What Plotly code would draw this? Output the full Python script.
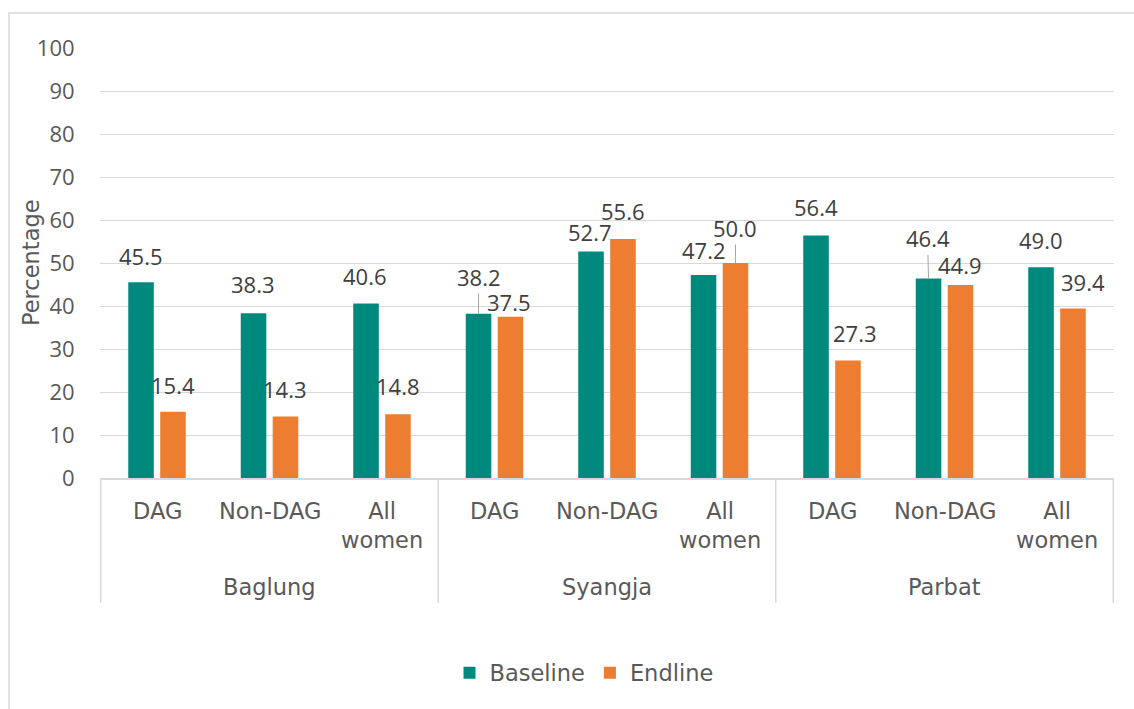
import plotly.graph_objects as go

# ---- data -------------------------------------------------------------
districts = ["Baglung", "Syangja", "Parbat"]
groups = ["DAG", "Non-DAG", "All<br>women"]
series_names = ["Baseline", "Endline"]
baseline = [45.5, 38.3, 40.6, 38.2, 52.7, 47.2, 56.4, 46.4, 49.0]
endline = [15.4, 14.3, 14.8, 37.5, 55.6, 50.0, 27.3, 44.9, 39.4]
y_ticks = [0, 10, 20, 30, 40, 50, 60, 70, 80, 90, 100]
y_title = "Percentage"

# ---- styling ----------------------------------------------------------
TEAL = "#00897D"
ORANGE = "#ED7D31"
GRID = "#D9D9D9"
TICK_TXT = "#595959"
LBL_TXT = "#404040"
NUM_FONT = "Open Sans"
WORD_FONT = "DejaVu Sans"
FS = 22
WFS = 22.5
BARGAP = 0.432
BARGROUPGAP = 0.2

# label placement per bar: (x shift px, y offset px of label centre from bar top, leader line)
baseline_lbl = [(0, -26, False), (-1, -29, False), (-1.5, -27, False),
                (0, -37, True), (-1.5, -19, False), (0, -25, False),
                (0, -28, False), (-1, -40, True), (0, -27, False)]
endline_lbl = [(0, -27, False), (0, -28, False), (0, -28, False),
               (-1, -15, False), (0, -28, False), (0, -35, True),
               (7, -28, False), (0, -20, False), (10, -27, False)]

W, H = 1134, 709
L, R, T, B = 100, 20, 48, 231
pw, ph = W - L - R, H - T - B


def py(pixel_y):
    """page pixel row -> paper y"""
    return (H - B - pixel_y) / ph


def px(pixel_x):
    """page pixel column -> paper x"""
    return (pixel_x - L) / pw


x_outer = [d for d in districts for _ in groups]
x_inner = [g for _ in districts for g in groups]

fig = go.Figure()
fig.add_trace(go.Bar(name=series_names[0], x=[x_outer, x_inner], y=baseline,
                     marker=dict(color=TEAL, line=dict(width=0))))
fig.add_trace(go.Bar(name=series_names[1], x=[x_outer, x_inner], y=endline,
                     marker=dict(color=ORANGE, line=dict(width=0))))

annotations = []

# data labels, placed over each bar through the category index of the axis
half_slot = (1 - BARGAP) / 4
for side, vals, specs in ((-1, baseline, baseline_lbl), (1, endline, endline_lbl)):
    for i, (v, (dx, dy, leader)) in enumerate(zip(vals, specs)):
        base = dict(x=i + side * half_slot, y=v, xref="x", yref="y",
                    text=f"{v:.1f}", font=dict(family=NUM_FONT, size=FS, color=LBL_TXT))
        if leader:
            base.update(showarrow=True, ax=dx, ay=dy, arrowhead=0, arrowwidth=1,
                        arrowcolor="#A6A6A6", standoff=0)
        else:
            base.update(showarrow=False, xshift=dx, yshift=-dy,
                        xanchor="center", yanchor="middle")
        annotations.append(base)

# two-level category labels under the axis
for i, g in enumerate(x_inner):
    annotations.append(dict(x=i, y=py(496), xref="x", yref="paper", text=g,
                            showarrow=False, xanchor="center", yanchor="top",
                            font=dict(family=WORD_FONT, size=WFS, color=TICK_TXT)))
n = len(groups)
for k, d in enumerate(districts):
    annotations.append(dict(x=k * n + (n - 1) / 2, y=py(587), xref="x", yref="paper",
                            text=d, showarrow=False, xanchor="center", yanchor="middle",
                            font=dict(family=WORD_FONT, size=WFS, color=TICK_TXT)))

# y-axis title
annotations.append(dict(x=px(31), y=0.5, xref="paper", yref="paper", text=y_title,
                        textangle=-90, showarrow=False, xanchor="center", yanchor="middle",
                        font=dict(family=WORD_FONT, size=WFS, color=TICK_TXT)))

shapes = []
# dividers between districts
for k in range(len(districts) + 1):
    xb = k * n - 0.5
    shapes.append(dict(type="line", xref="x", yref="paper", x0=xb, x1=xb,
                       y0=0, y1=py(603), line=dict(color=GRID, width=1.5)))

# light frame around the whole chart (left and top edges visible)
shapes.append(dict(type="rect", xref="paper", yref="paper",
                   x0=px(9), x1=px(W + 10), y0=py(H + 10), y1=py(13),
                   line=dict(color=GRID, width=1.5), fillcolor="rgba(0,0,0,0)",
                   layer="below"))

fig.update_layout(
    width=W, height=H,
    margin=dict(l=L, r=R, t=T, b=B, autoexpand=False),
    paper_bgcolor="white", plot_bgcolor="white",
    barmode="group", bargap=BARGAP, bargroupgap=BARGROUPGAP,
    font=dict(family=WORD_FONT, size=WFS, color=TICK_TXT),
    showlegend=True,
    legend=dict(orientation="h", x=px(584), xanchor="center",
                y=py(673), yanchor="middle",
                font=dict(family=WORD_FONT, size=WFS, color=TICK_TXT),
                itemwidth=30, bgcolor="rgba(0,0,0,0)"),
    annotations=annotations,
    shapes=shapes,
)

fig.update_yaxes(range=[0, 100], tickvals=y_ticks, showgrid=True, gridcolor=GRID,
                 gridwidth=1.3, zeroline=False, showline=False,
                 ticks="outside", ticklen=20, tickcolor="rgba(0,0,0,0)",
                 tickfont=dict(family=NUM_FONT, size=FS, color=TICK_TXT))
fig.update_xaxes(type="multicategory", showline=True, linecolor=GRID, linewidth=1.5,
                 showgrid=False, ticks="", showticklabels=False, showdividers=False)

fig.write_html("out.html")
